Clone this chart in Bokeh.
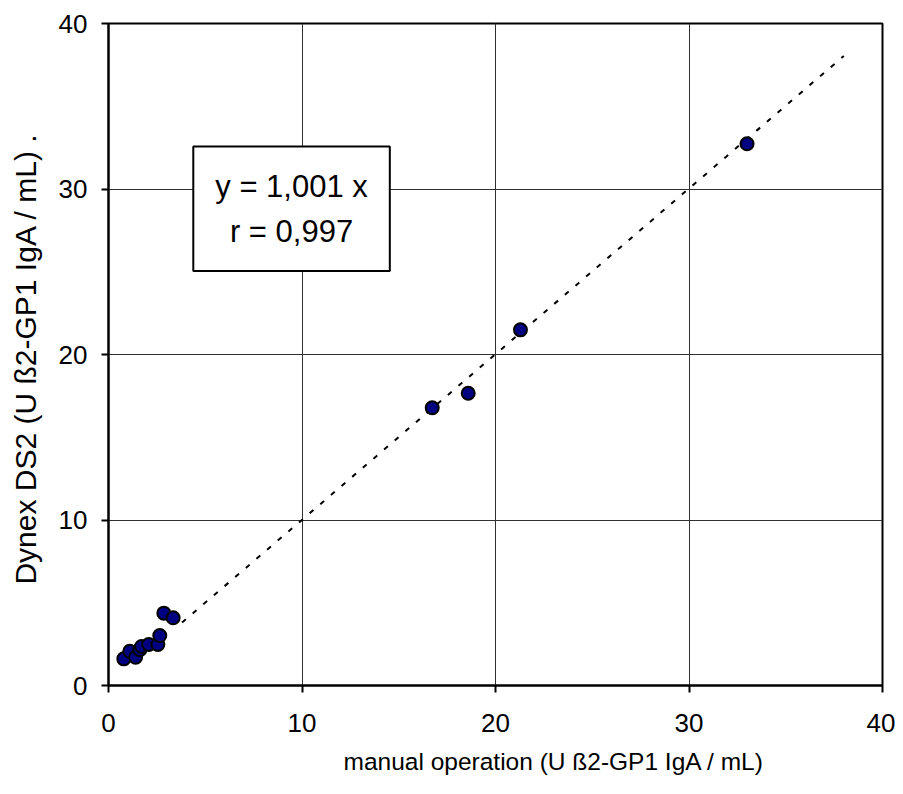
from bokeh.plotting import figure
from bokeh.models import Label, Range1d, FixedTicker, Title
from bokeh.embed import file_html
from bokeh.resources import INLINE

# Data
manual_x = [0.79, 1.10, 1.40, 1.62, 1.71, 2.08, 2.55, 2.65, 2.86, 3.34, 16.73, 18.59, 21.29, 33.0]
dynex_y = [1.61, 2.07, 1.71, 2.16, 2.36, 2.48, 2.48, 3.02, 4.37, 4.09, 16.78, 17.66, 21.49, 32.73]
trend_x = [3.8, 38.0]
slope = 1.001
trend_y = [slope * v for v in trend_x]
ticks = [0, 10, 20, 30, 40]
eq_text = "y = 1,001 x\nr = 0,997"
x_title = "manual operation (U \u00df2-GP1 IgA / mL)"
y_title = "Dynex DS2 (U \u00df2-GP1 IgA / mL)  ."

FONT = "Liberation Sans"

p = figure(width=895, height=786, output_backend="svg", toolbar_location=None,
           x_range=Range1d(0, 40), y_range=Range1d(0, 40),
           min_border_left=108, min_border_right=13, min_border_top=23, min_border_bottom=101)

p.outline_line_color = "black"
p.outline_line_width = 2
p.background_fill_color = "white"
p.border_fill_color = "white"

for ax in (p.xaxis[0], p.yaxis[0]):
    ax.ticker = FixedTicker(ticks=ticks)
    ax.axis_line_width = 2
    ax.axis_line_color = "black"
    ax.major_tick_line_width = 2
    ax.major_tick_line_color = "black"
    ax.major_tick_out = 7
    ax.major_tick_in = 0
    ax.minor_tick_line_color = None
    ax.major_label_text_font = FONT
    ax.major_label_text_font_size = "26px"
    ax.major_label_text_color = "black"
    ax.axis_label_text_font = FONT
    ax.axis_label_text_font_style = "normal"
    ax.axis_label_text_color = "black"

p.yaxis.axis_label = y_title
p.yaxis.axis_label_text_font_size = "30px"
p.xaxis.major_label_standoff = 21
p.yaxis.major_label_standoff = 14
p.yaxis.axis_label_standoff = 14

# x-axis title sits right of centre in the reference
xt = Title(text=x_title, align="left", offset=235, standoff=23,
           text_font=FONT, text_font_size="24.5px", text_font_style="normal",
           text_color="black")
p.add_layout(xt, "below")

p.xgrid.ticker = FixedTicker(ticks=ticks)
p.ygrid.ticker = FixedTicker(ticks=ticks)
p.grid.grid_line_color = "#303030"
p.grid.grid_line_width = 1

p.line(trend_x, trend_y, line_color="black", line_width=2, line_dash="5 9")
p.scatter(manual_x, dynex_y, size=13, fill_color="#000080", line_color="black", line_width=2)

lab = Label(x=9.46, y=28.8, text=eq_text, text_align="center", text_baseline="middle",
            text_font=FONT, text_font_size="31px", text_color="black",
            text_line_height=1.3,
            background_fill_color="white", border_line_color="black", border_line_width=2,
            padding=22)
p.add_layout(lab)

open("out.html", "w").write(file_html(p, INLINE))
